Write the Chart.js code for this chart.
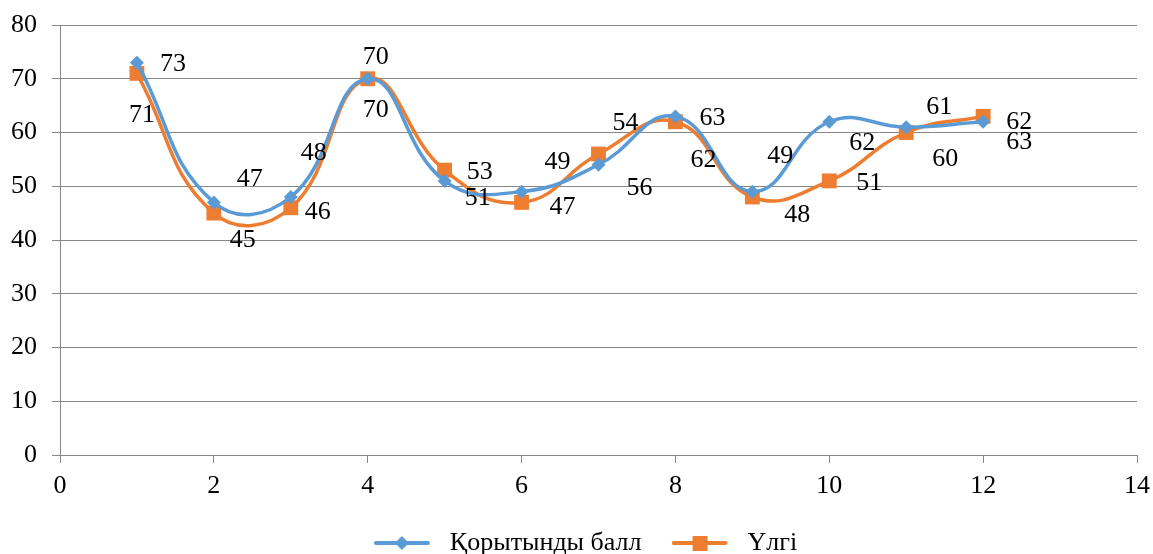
<!DOCTYPE html>
<html>
<head>
<meta charset="utf-8">
<script src="https://cdn.jsdelivr.net/npm/chart.js@4/dist/chart.umd.min.js"></script>
<style>
  html, body { margin: 0; padding: 0; background: #fff; }
  .chart-container { width: 1153px; height: 554px; }
</style>
</head>
<body>
<div class="chart-container"><canvas id="chart"></canvas></div>
<script>
// data
const xValues = [1, 2, 3, 4, 5, 6, 7, 8, 9, 10, 11, 12];
const finalScores = [73, 47, 48, 70, 51, 49, 54, 63, 49, 62, 61, 62];
const sampleScores = [71, 45, 46, 70, 53, 47, 56, 62, 48, 51, 60, 63];
const seriesNames = ['Қорытынды балл', 'Үлгі'];

// where each value label sits relative to its point (px)
const finalLabelOffsets = [[36, 2], [36, -23], [23, -44], [8, 31], [33, 17], [36, -29], [27, -42], [37, 2], [28, -35], [33, 21], [33, -20], [36, 0]];
const sampleLabelOffsets = [[5, 42], [29, 27], [27, 4], [8, -22], [35, 2], [41, 5], [41, 34], [28, 38], [45, 18], [40, 2], [39, 27], [36, 26]];

const BLUE = '#5B9BD5';
const ORANGE = '#ED7D31';
const FONT = "'Liberation Serif', 'Times New Roman', serif";
const FONT_SIZE = 26;

// legend swatch: line with the marker in the middle, like Excel
// (a bit of blank space on the right widens the gap before the text)
function legendIcon(color, shape) {
  const c = document.createElement('canvas');
  c.width = 63; c.height = 18;
  const g = c.getContext('2d');
  g.strokeStyle = color;
  g.lineWidth = 4;
  g.lineCap = 'round';
  g.beginPath(); g.moveTo(2, 9); g.lineTo(54, 9); g.stroke();
  g.fillStyle = color;
  if (shape === 'diamond') {
    g.beginPath(); g.moveTo(28, 2); g.lineTo(35, 9); g.lineTo(28, 16); g.lineTo(21, 9); g.closePath(); g.fill();
  } else {
    g.fillRect(21, 2, 15, 15);
  }
  return c;
}

const valueLabels = {
  id: 'valueLabels',
  afterDatasetsDraw(chart) {
    const ctx = chart.ctx;
    ctx.save();
    ctx.font = FONT_SIZE + 'px ' + FONT;
    ctx.fillStyle = '#000';
    ctx.textAlign = 'center';
    ctx.textBaseline = 'middle';
    [finalLabelOffsets, sampleLabelOffsets].forEach((offs, di) => {
      const meta = chart.getDatasetMeta(di);
      const values = chart.data.datasets[di].data;
      meta.data.forEach((pt, i) => {
        ctx.fillText(String(values[i].y), pt.x + offs[i][0], pt.y + offs[i][1]);
      });
    });
    ctx.restore();
  }
};

// legend sits a little right of centre in the original
const legendNudge = {
  id: 'legendNudge',
  afterLayout(chart) {
    if (chart.legend) {
      chart.legend.left += 17;
      chart.legend.right += 17;
    }
  }
};

const toPoints = (vals) => vals.map((v, i) => ({ x: xValues[i], y: v }));

new Chart(document.getElementById('chart').getContext('2d'), {
  type: 'line',
  data: {
    datasets: [
      {
        label: seriesNames[0],
        data: toPoints(finalScores),
        borderColor: BLUE,
        backgroundColor: BLUE,
        borderWidth: 3.5,
        tension: 0.45,
        pointStyle: 'rectRot',
        pointRadius: 7,
        pointHoverRadius: 7,
        pointBorderWidth: 0,
        legendIcon: legendIcon(BLUE, 'diamond')
      },
      {
        label: seriesNames[1],
        data: toPoints(sampleScores),
        borderColor: ORANGE,
        backgroundColor: ORANGE,
        borderWidth: 3.5,
        tension: 0.45,
        pointStyle: 'rect',
        pointRadius: 10.5,
        pointHoverRadius: 10.5,
        pointBorderWidth: 0,
        legendIcon: legendIcon(ORANGE, 'square')
      }
    ]
  },
  options: {
    responsive: true,
    maintainAspectRatio: false,
    animation: false,
    layout: { padding: { top: 25, right: 16, left: 0, bottom: -12 } },
    scales: {
      x: {
        type: 'linear',
        min: 0,
        max: 14,
        ticks: { stepSize: 2, color: '#000', font: { family: FONT, size: FONT_SIZE }, padding: 8 },
        grid: { display: true, drawOnChartArea: false, color: '#868686', tickLength: 8 },
        border: { color: '#868686', width: 1 },
        afterFit: (scale) => {
          scale.height = 45;
          scale.paddingLeft = 0;
          scale.paddingRight = 0;
        }
      },
      y: {
        min: 0,
        max: 80,
        ticks: { stepSize: 10, color: '#000', font: { family: FONT, size: FONT_SIZE }, padding: 15 },
        grid: { color: '#868686', lineWidth: 1, tickLength: 8 },
        border: { color: '#868686', width: 1 },
        afterFit: (scale) => {
          scale.width = 60;
          scale.paddingTop = 0;
          scale.paddingBottom = 0;
        }
      }
    },
    plugins: {
      legend: {
        position: 'bottom',
        labels: {
          usePointStyle: true,
          pointStyleWidth: 63,
          color: '#000',
          font: { family: FONT, size: FONT_SIZE },
          padding: 30,
          generateLabels: (chart) => chart.data.datasets.map((ds, i) => ({
            text: ds.label,
            pointStyle: ds.legendIcon,
            fillStyle: ds.borderColor,
            strokeStyle: ds.borderColor,
            lineWidth: 0,
            datasetIndex: i,
            fontColor: '#000'
          }))
        }
      },
      tooltip: { enabled: false }
    }
  },
  plugins: [valueLabels, legendNudge]
});
</script>
</body>
</html>
